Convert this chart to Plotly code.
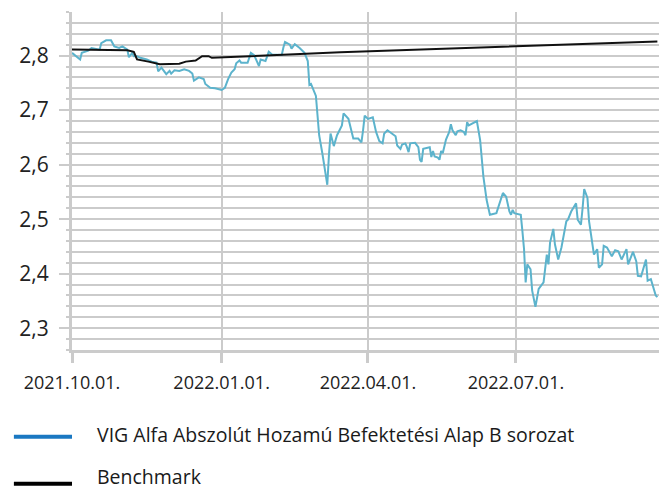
import plotly.graph_objects as go

fund_dates = [
    "2021-10-01", "2021-10-06", "2021-10-07", "2021-10-11", "2021-10-13", "2021-10-18", "2021-10-19",
    "2021-10-22", "2021-10-25", "2021-10-27", "2021-10-30", "2021-11-01", "2021-11-04", "2021-11-05",
    "2021-11-07", "2021-11-08", "2021-11-10", "2021-11-12", "2021-11-16", "2021-11-19", "2021-11-22",
    "2021-11-23", "2021-11-25", "2021-11-28", "2021-11-30", "2021-12-01", "2021-12-03", "2021-12-06",
    "2021-12-09", "2021-12-12", "2021-12-14", "2021-12-15", "2021-12-18", "2021-12-21", "2021-12-22",
    "2021-12-25", "2021-12-28", "2022-01-01", "2022-01-03", "2022-01-05", "2022-01-07", "2022-01-09",
    "2022-01-10", "2022-01-12", "2022-01-13", "2022-01-17", "2022-01-19", "2022-01-21", "2022-01-24",
    "2022-01-25", "2022-01-28", "2022-01-30", "2022-02-01", "2022-02-07", "2022-02-08", "2022-02-09",
    "2022-02-12", "2022-02-13", "2022-02-15", "2022-02-18", "2022-02-21", "2022-02-22", "2022-02-23",
    "2022-02-24", "2022-02-25", "2022-02-28", "2022-03-01", "2022-03-02", "2022-03-04", "2022-03-07",
    "2022-03-08", "2022-03-09", "2022-03-11", "2022-03-13", "2022-03-16", "2022-03-17", "2022-03-20",
    "2022-03-22", "2022-03-23", "2022-03-26", "2022-03-28", "2022-03-29", "2022-03-30", "2022-04-01",
    "2022-04-04", "2022-04-06", "2022-04-08", "2022-04-10", "2022-04-11", "2022-04-13", "2022-04-18",
    "2022-04-19", "2022-04-21", "2022-04-22", "2022-04-24", "2022-04-25", "2022-04-26", "2022-04-27",
    "2022-04-30", "2022-05-02", "2022-05-03", "2022-05-04", "2022-05-05", "2022-05-09", "2022-05-10",
    "2022-05-11", "2022-05-12", "2022-05-14", "2022-05-15", "2022-05-16", "2022-05-17", "2022-05-19",
    "2022-05-21", "2022-05-22", "2022-05-23", "2022-05-25", "2022-05-26", "2022-05-28", "2022-05-30",
    "2022-05-31", "2022-06-01", "2022-06-02", "2022-06-07", "2022-06-09", "2022-06-10", "2022-06-11",
    "2022-06-13", "2022-06-14", "2022-06-15", "2022-06-19", "2022-06-21", "2022-06-23", "2022-06-25",
    "2022-06-27", "2022-06-28", "2022-06-29", "2022-06-30", "2022-07-04", "2022-07-05", "2022-07-06",
    "2022-07-07", "2022-07-08", "2022-07-10", "2022-07-11", "2022-07-13", "2022-07-15", "2022-07-18",
    "2022-07-19", "2022-07-20", "2022-07-21", "2022-07-22", "2022-07-24", "2022-07-25", "2022-07-27",
    "2022-07-29", "2022-08-01", "2022-08-02", "2022-08-04", "2022-08-07", "2022-08-08", "2022-08-10",
    "2022-08-11", "2022-08-12", "2022-08-14", "2022-08-15", "2022-08-18", "2022-08-20", "2022-08-21",
    "2022-08-23", "2022-08-24", "2022-08-26", "2022-08-29", "2022-08-31", "2022-09-02", "2022-09-04",
    "2022-09-07", "2022-09-08", "2022-09-11", "2022-09-13", "2022-09-14", "2022-09-16", "2022-09-19",
    "2022-09-20", "2022-09-22", "2022-09-25", "2022-09-26",
]
fund_values = [
    2.805, 2.793, 2.805, 2.809, 2.814, 2.811, 2.823,
    2.828, 2.828, 2.817, 2.814, 2.817, 2.811, 2.797,
    2.805, 2.799, 2.799, 2.796, 2.793, 2.789, 2.787,
    2.771, 2.778, 2.766, 2.772, 2.767, 2.773, 2.772,
    2.775, 2.772, 2.767, 2.754, 2.760, 2.757, 2.748,
    2.741, 2.740, 2.737, 2.741, 2.757, 2.769, 2.775,
    2.786, 2.791, 2.787, 2.787, 2.805, 2.801, 2.781,
    2.793, 2.790, 2.807, 2.802, 2.801, 2.815, 2.825,
    2.820, 2.813, 2.821, 2.814, 2.805, 2.796, 2.790,
    2.746, 2.748, 2.726, 2.687, 2.654, 2.620, 2.563,
    2.617, 2.657, 2.634, 2.654, 2.672, 2.694, 2.684,
    2.663, 2.648, 2.648, 2.641, 2.663, 2.690, 2.684,
    2.687, 2.660, 2.643, 2.639, 2.657, 2.663, 2.652,
    2.635, 2.629, 2.637, 2.639, 2.632, 2.623, 2.639,
    2.640, 2.632, 2.609, 2.605, 2.629, 2.632, 2.614,
    2.625, 2.615, 2.613, 2.609, 2.625, 2.621, 2.646,
    2.660, 2.674, 2.663, 2.654, 2.661, 2.663, 2.660,
    2.654, 2.678, 2.672, 2.680, 2.645, 2.605, 2.578,
    2.535, 2.520, 2.508, 2.511, 2.530, 2.548, 2.541,
    2.514, 2.508, 2.517, 2.511, 2.508, 2.478, 2.445,
    2.384, 2.417, 2.408, 2.369, 2.339, 2.372, 2.384,
    2.408, 2.435, 2.417, 2.457, 2.482, 2.454, 2.426,
    2.448, 2.496, 2.499, 2.514, 2.529, 2.499, 2.490,
    2.520, 2.555, 2.539, 2.496, 2.435, 2.445, 2.411,
    2.417, 2.451, 2.448, 2.432, 2.443, 2.441, 2.426,
    2.445, 2.417, 2.440, 2.423, 2.396, 2.395, 2.426,
    2.387, 2.390, 2.360, 2.357,
]

bench_dates = [
    "2021-10-01", "2021-11-02", "2021-11-04", "2021-11-08", "2021-11-09", "2021-11-10", "2021-11-17",
    "2021-11-22", "2021-11-24", "2021-12-06", "2021-12-10", "2021-12-16", "2021-12-20", "2021-12-24",
    "2021-12-26", "2022-03-15", "2022-06-15", "2022-09-26",
]
bench_values = [
    2.811, 2.811, 2.810, 2.807, 2.801, 2.793, 2.789,
    2.785, 2.784, 2.785, 2.789, 2.791, 2.799, 2.799,
    2.796, 2.806, 2.816, 2.826,
]

series_names = ["VIG Alfa Abszolút Hozamú Befektetési Alap B sorozat", "Benchmark"]
x_tick_vals = ["2021-10-01", "2022-01-01", "2022-04-01", "2022-07-01"]
x_tick_text = ["2021.10.01.", "2022.01.01.", "2022.04.01.", "2022.07.01."]
y_tick_vals = [2.3, 2.4, 2.5, 2.6, 2.7, 2.8]

FONT = "Open Sans"
GRID = "#cbcbcb"
fund_color = "#5cb3cc"
legend_colors = ["#1a78c2", "#000000"]

fig = go.Figure()
fig.add_trace(go.Scatter(x=fund_dates, y=fund_values, mode="lines", name=series_names[0],
                         line=dict(color=fund_color, width=2), showlegend=False))
fig.add_trace(go.Scatter(x=bench_dates, y=bench_values, mode="lines", name=series_names[1],
                         line=dict(color="#111111", width=2), showlegend=False))

# manual legend below the plot
legend_y = [-0.257, -0.396]
text_shift = [0.006, 0.022]
for name, col, yy, dy in zip(series_names, legend_colors, legend_y, text_shift):
    fig.add_shape(type="line", xref="paper", yref="paper", x0=-0.099, x1=0.0, y0=yy, y1=yy,
                  line=dict(color=col, width=4))
    fig.add_annotation(text=name, xref="paper", yref="paper", x=0.041, y=yy + dy, xanchor="left",
                       yanchor="middle", showarrow=False, borderpad=0,
                       font=dict(family=FONT, size=19.5, color="#1a1a1a"))

fig.update_layout(
    width=659, height=489,
    margin=dict(l=72, r=0, t=12, b=139),
    paper_bgcolor="white", plot_bgcolor="white",
    separators=", ",
    font=dict(family=FONT, color="#222222"),
    xaxis=dict(
        type="date", range=["2021-10-01", "2022-09-27"],
        tickvals=x_tick_vals, ticktext=x_tick_text,
        tickfont=dict(family=FONT, size=18, color="#222222"),
        ticklabelstandoff=4,
        showgrid=True, gridcolor=GRID, gridwidth=2,
        showline=True, linecolor=GRID, linewidth=3,
        ticks="outside", ticklen=10, tickwidth=3, tickcolor=GRID,
        zeroline=False,
    ),
    yaxis=dict(
        range=[2.26, 2.88], tickvals=y_tick_vals, tickformat=".1f",
        tickfont=dict(family=FONT, size=21, color="#222222"),
        ticklabelstandoff=6,
        showgrid=True, gridcolor=GRID, gridwidth=2,
        showline=True, linecolor=GRID, linewidth=3,
        ticks="outside", ticklen=10, tickwidth=2, tickcolor=GRID,
        minor=dict(dtick=0.02, tick0=2.26, showgrid=True, gridcolor=GRID, gridwidth=2,
                   ticks="outside", ticklen=3, tickwidth=2, tickcolor=GRID),
        zeroline=False,
    ),
)

fig.write_html("out.html", config={"displayModeBar": False},
               post_script="document.body.style.margin='0';")
